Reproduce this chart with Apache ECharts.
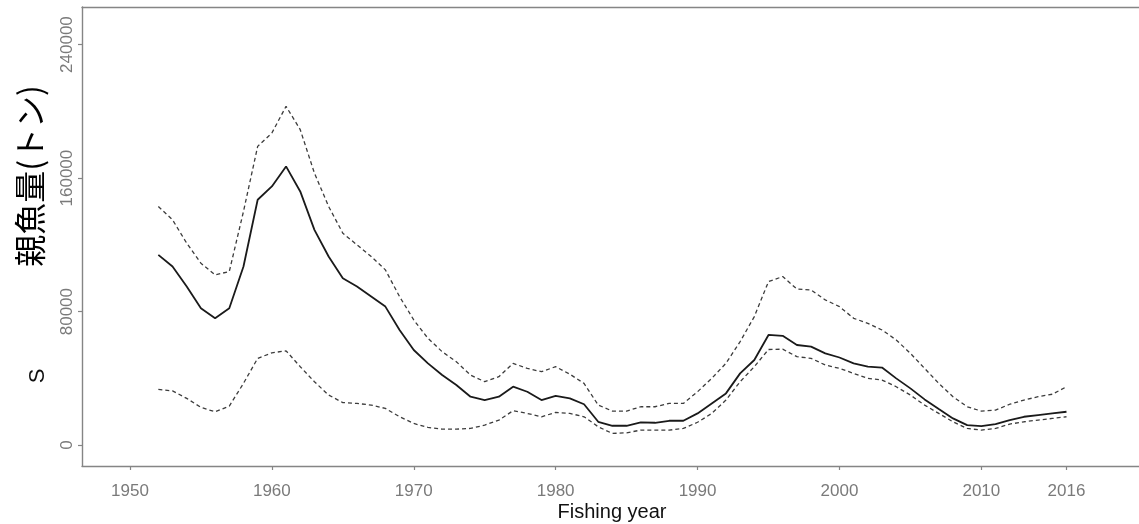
<!DOCTYPE html>
<html>
<head>
<meta charset="utf-8">
<script src="https://cdn.jsdelivr.net/npm/echarts@6/dist/echarts.min.js"></script>
<style>
html,body{margin:0;padding:0;background:#fff;}
#chart{width:1139px;height:524px;}
</style>
</head>
<body>
<div id="chart"></div>
<script>
const years = [1952,1953,1954,1955,1956,1957,1958,1959,1960,1961,1962,1963,1964,1965,1966,1967,1968,1969,1970,1971,1972,1973,1974,1975,1976,1977,1978,1979,1980,1981,1982,1983,1984,1985,1986,1987,1988,1989,1990,1991,1992,1993,1994,1995,1996,1997,1998,1999,2000,2001,2002,2003,2004,2005,2006,2007,2008,2009,2010,2011,2012,2013,2014,2015,2016];
const spawnerBiomass = [114000,107000,95000,82000,76000,82000,107000,147000,155000,167000,152000,129000,113000,100000,95000,89000,83000,69000,57000,49000,42000,36000,29000,27000,29000,35000,32000,27000,29500,28000,24500,14000,11600,11600,13600,13400,14600,14600,19000,25000,31000,43000,51000,66000,65500,60000,59000,55000,52500,49000,47000,46500,40000,34000,27400,21600,16000,12000,11400,12600,15000,17000,18000,19000,20000];
const upperCI = [143000,135000,121000,109000,102000,104000,140000,179000,187000,203000,189000,163000,143000,127000,120000,113000,105000,89000,75000,64000,56000,50000,42000,38000,41000,49000,46000,44000,47000,42500,37000,24000,20400,20400,23000,23000,25000,25000,32000,40000,49000,62000,77000,98000,101000,93500,93000,87000,83000,76000,73000,69000,63000,55000,46000,37000,29000,23000,20400,21000,24500,27000,29000,30500,35000];
const lowerCI = [33400,32500,28000,22600,20000,23400,37000,52000,55300,56500,47000,38000,30000,25500,25000,24000,22000,17000,13000,10600,9600,9600,10000,12000,15000,20600,19000,17000,19600,19000,17000,11000,7000,7400,9000,9000,9000,10000,13700,19000,27000,38000,47000,57300,57500,53000,52000,48000,46000,43000,40000,39000,35000,30000,24000,19000,14000,10000,9000,10000,12600,14000,15000,16000,17000];
const xTicks = [1950,1960,1970,1980,1990,2000,2010,2016];
const yTicks = [0,80000,160000,240000];
const xTitle = 'Fishing year';
const yTitleS = 'S';
const yTitleJa = '親魚量(トン)';

const pairs = arr => years.map((y, i) => [y, arr[i]]);
const axisGray = '#858585';
const labelGray = '#7a7a7a';
const labelFont = 'Liberation Sans, Arial, sans-serif';

const chart = echarts.init(document.getElementById('chart'), null, {renderer: 'canvas'});
chart.setOption({
  animation: false,
  backgroundColor: '#ffffff',
  grid: {left: 82, top: 7, width: 1057, height: 459, show: false},
  xAxis: [{
    type: 'value', min: 1946.62, max: 2021.11,
    axisLine: {show: true, onZero: false, lineStyle: {color: axisGray, width: 1.4}},
    axisTick: {show: true, length: 4, customValues: xTicks, lineStyle: {color: axisGray, width: 1.2}},
    axisLabel: {customValues: xTicks, formatter: v => String(v), color: labelGray, fontSize: 17, fontFamily: labelFont, margin: 17},
    splitLine: {show: false}
  }, {
    type: 'value', position: 'top', min: 1946.62, max: 2021.11,
    axisLine: {show: true, onZero: false, lineStyle: {color: axisGray, width: 1.4}},
    axisTick: {show: false}, axisLabel: {show: false}, splitLine: {show: false}
  }],
  yAxis: {
    type: 'value', min: -12500, max: 262500,
    axisLine: {show: true, onZero: false, lineStyle: {color: axisGray, width: 1.4}},
    axisTick: {show: true, length: 4, customValues: yTicks, lineStyle: {color: axisGray, width: 1.2}},
    axisLabel: {customValues: yTicks, formatter: v => String(v), rotate: 90, color: labelGray, fontSize: 17, fontFamily: labelFont, margin: 6},
    splitLine: {show: false}
  },
  graphic: [
    {type: 'text', x: 612, y: 512, style: {text: xTitle, fill: '#111', font: '20px "Liberation Sans", Arial, sans-serif', textAlign: 'center', textVerticalAlign: 'middle'}},
    {type: 'text', x: 38, y: 376, rotation: Math.PI / 2, style: {text: yTitleS, fill: '#111', font: '22px "Liberation Sans", Arial, sans-serif', textAlign: 'center', textVerticalAlign: 'middle'}},
    {type: 'text', x: 30, y: 176, rotation: Math.PI / 2, style: {text: yTitleJa, fill: '#000', font: '32px "Noto Sans CJK JP", sans-serif', textAlign: 'center', textVerticalAlign: 'middle'}}
  ],
  series: [
    {type: 'line', data: pairs(upperCI), showSymbol: false, lineStyle: {color: '#3c3c3c', width: 1.3, type: [4, 3]}},
    {type: 'line', data: pairs(lowerCI), showSymbol: false, lineStyle: {color: '#3c3c3c', width: 1.3, type: [4, 3]}},
    {type: 'line', data: pairs(spawnerBiomass), showSymbol: false, lineStyle: {color: '#1a1a1a', width: 1.8}}
  ]
});
</script>
</body>
</html>
